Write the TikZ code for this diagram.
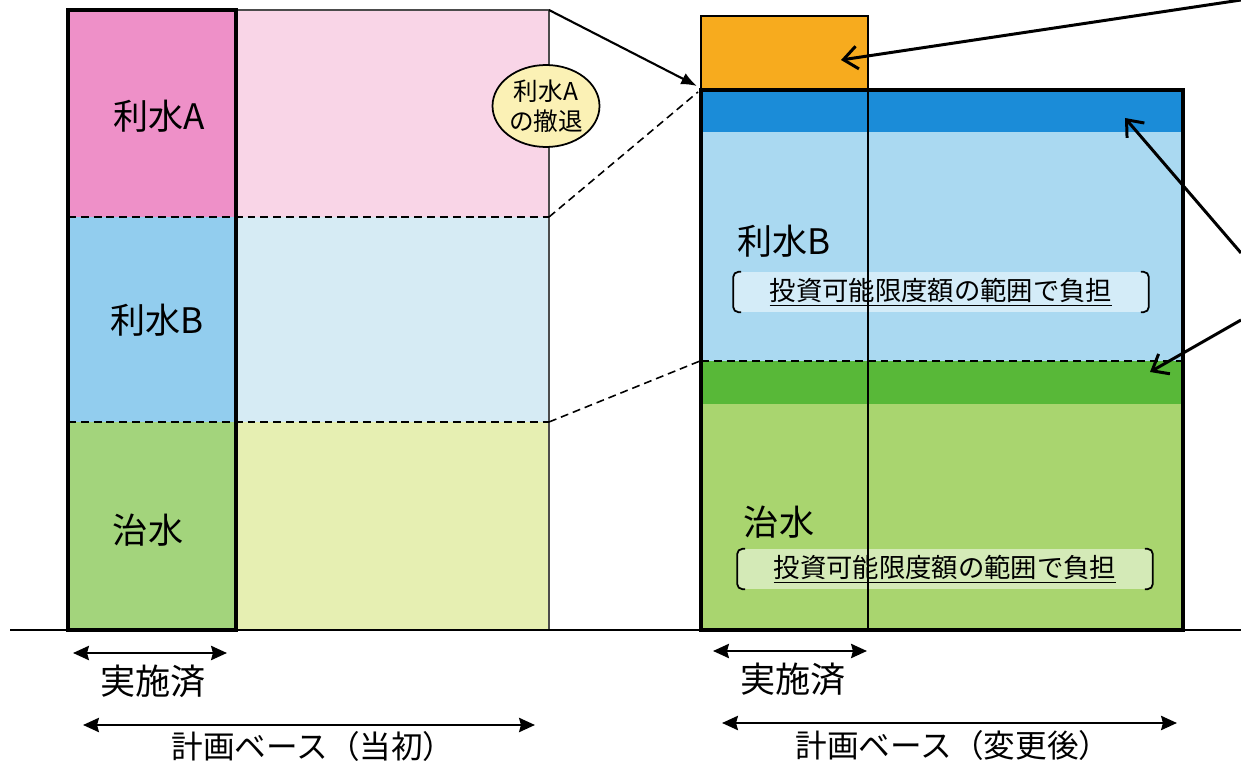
\documentclass[tikz,border=0pt]{standalone}
\usepackage{fontspec}
\setmainfont{Noto Sans CJK JP}
\usepackage{tikz}
\usetikzlibrary{calc,positioning,arrows.meta,shapes.geometric}
\definecolor{pinkA}{HTML}{EE90C8}
\definecolor{pinkAl}{HTML}{F9D5E7}
\definecolor{blueB}{HTML}{92CDEE}
\definecolor{blueBl}{HTML}{D6EBF4}
\definecolor{greenC}{HTML}{A3D47C}
\definecolor{greenCl}{HTML}{E6EFB2}
\definecolor{orangeA}{HTML}{F7AB1E}
\definecolor{blueD}{HTML}{1B8CD8}
\definecolor{blueL}{HTML}{AAD9F1}
\definecolor{greenB}{HTML}{58B838}
\definecolor{greenL}{HTML}{A9D56F}
\definecolor{yellowE}{HTML}{FBF1B5}
\tikzstyle{bandline}=[line width=0.9pt,dash pattern=on 4.5pt off 2.8pt]
\tikzstyle{thickbox}=[draw=black,line width=2.2pt]
\tikzstyle{lab}=[font=\fontsize{20}{22}\selectfont]
\tikzstyle{dimarrow}=[{Stealth[length=9pt,width=8pt,inset=1pt]}-{Stealth[length=9pt,width=8pt,inset=1pt]},line width=1.6pt]

\begin{document}
\begin{tikzpicture}[x=0.02cm,y=-0.02cm,
    burden/.style={rounded corners=4pt,fill=white,fill opacity=0.5,text opacity=1,
      minimum width=8.3cm,minimum height=0.68cm,font=\fontsize{15}{16}\selectfont},
    brak/.style={line width=1pt,rounded corners=3pt},
    pointer/.style={-{Straight Barb[length=8pt,width=13pt]},line width=1.7pt},
    withdraw/.style={ellipse,draw,line width=1pt,fill=yellowE,minimum width=2.14cm,
      minimum height=1.64cm,inner sep=0pt,align=center,font=\fontsize{14}{17}\selectfont}
    ]
    \useasboundingbox (0,0) rectangle (1241,763);

    % initial plan
    \foreach \ya/\yb/\ca/\cb in {10/217/pinkA/pinkAl,217/422/blueB/blueBl,422/630/greenC/greenCl} {
      \fill [\ca] (68,\ya) rectangle (236,\yb);
      \fill [\cb] (236,\ya) rectangle (549,\yb);
    }
    \draw [gray!60!black,line width=0.8pt] (236,10) rectangle (549,630);
    \draw [bandline] (68,217) -- (549,217);
    \draw [bandline] (68,422) -- (549,422);
    \draw [thickbox] (68,10) rectangle (236,630);

    % changed plan
    \fill [orangeA] (701,16) rectangle (868,90);
    \draw [line width=0.8pt] (701,16) rectangle (868,90);
    \foreach \ya/\yb/\ca in {90/132/blueD,132/361/blueL,361/404/greenB,404/630/greenL} {
      \fill [\ca] (701,\ya) rectangle (1183,\yb);
    }
    \draw [bandline] (701,361) -- (1183,361);
    \draw [thickbox] (701,90) rectangle (1183,630);

    % ground
    \draw [line width=0.8pt] (10,630) -- (1241,630);

    \node [lab] (riA) at (159,116) {利水A};
    \node [lab] (riB) at (157,320) {利水B};
    \node [lab] (chi) at (148,530) {治水};
    \node [withdraw] (wd) at (546,106) {利水A\\の撤退};

    \node [lab] (riB2) at (784,241) {利水B};
    \node [lab] (chi2) at (779,522) {治水};
    \node [burden] (fuB) at (941,292) {\underline{投資可能限度額の範囲で負担}};
    \node [burden] (fuC) at (945,569) {\underline{投資可能限度額の範囲で負担}};
    \foreach \b in {fuB,fuC} {
      \draw [brak] ($(\b.north west)+(8,0)$) -- (\b.north west) -- (\b.south west) -- ($(\b.south west)+(8,0)$);
      \draw [brak] ($(\b.north east)+(-8,0)$) -- (\b.north east) -- (\b.south east) -- ($(\b.south east)+(-8,0)$);
    }
    \draw [line width=0.8pt] (868,90) -- (868,630);

    % links between the plans
    \coordinate (oA) at (549,10);
    \coordinate (oB) at (549,217);
    \coordinate (oC) at (549,422);
    \coordinate (tA) at (697,86);
    \coordinate (tB) at (698,92);
    \coordinate (tC) at (700,361);
    \draw [-{Latex[length=9pt,width=7pt]},line width=1.2pt] (oA) -- (tA);
    \draw [bandline] (oB) -- (tB);
    \draw [bandline] (oC) -- (tC);

    % pointers from the right
    \coordinate (q1) at (1241,0);
    \coordinate (q2) at (1241,253);
    \coordinate (q3) at (1241,320);
    \coordinate (h1) at (841,60);
    \coordinate (h2) at (1125,118);
    \coordinate (h3) at (1150,372);
    \foreach \i in {1,2,3} {
      \draw [pointer] (q\i) -- (h\i);
    }

    % extents
    \coordinate (d1) at (73,653);
    \coordinate (d2) at (227,653);
    \coordinate (d3) at (83,725);
    \coordinate (d4) at (535,725);
    \coordinate (e1) at (713,651);
    \coordinate (e2) at (867,651);
    \coordinate (e3) at (722,723);
    \coordinate (e4) at (1177,723);
    \draw [dimarrow] (d1) -- (d2);
    \draw [dimarrow] (d3) -- (d4);
    \draw [dimarrow] (e1) -- (e2);
    \draw [dimarrow] (e3) -- (e4);
    \node [lab] (done1) at (153,681) {実施済};
    \node [lab,font=\fontsize{18}{20}\selectfont] (base1) at (313,746) {計画ベース（当初）};
    \node [lab] (done2) at (793,679) {実施済};
    \node [lab,font=\fontsize{18}{20}\selectfont] (base2) at (953,745) {計画ベース（変更後）};
  \end{tikzpicture}
\end{document}
